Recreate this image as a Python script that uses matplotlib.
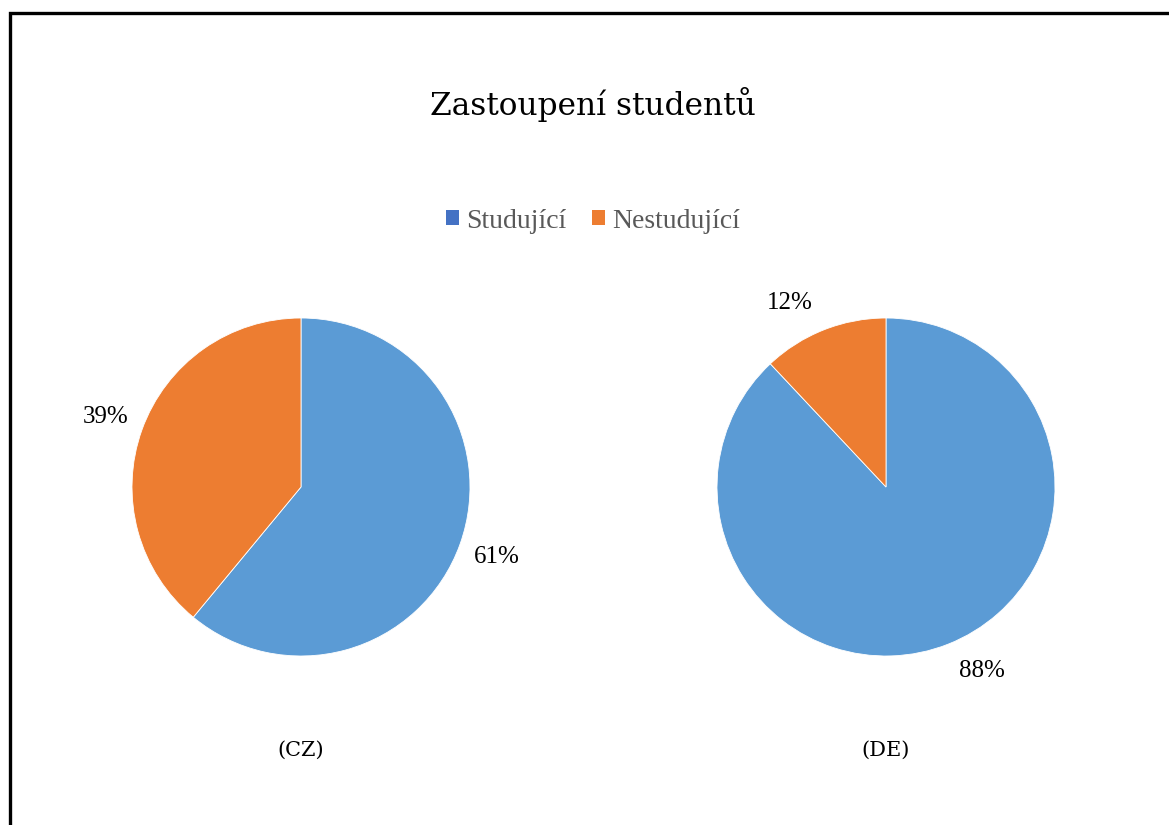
import numpy as np
import matplotlib.pyplot as plt
from matplotlib.patches import Rectangle, Patch

# data
categories = ['Studující', 'Nestudující']
countries = ['(CZ)', '(DE)']
cz_values = [61, 39]
de_values = [88, 12]

pie_colors = ['#5B9BD5', '#ED7D31']
legend_colors = ['#4472C4', '#ED7D31']

W, H = 1169, 825
fig = plt.figure(figsize=(W / 100, H / 100), dpi=100)

# frame of the chart area (right and bottom fall outside the image)
fig.patches.append(Rectangle((9.5 / W, -0.1), 1.2, (H - 13.5) / H + 0.1,
                             transform=fig.transFigure, fill=False,
                             edgecolor='black', linewidth=2.4))

fig.text(593 / W, 1 - 104 / H, 'Zastoupení studentů', ha='center', va='center',
         fontsize=22.5, family='DejaVu Serif')

def drawPie(cx, cy, r, values, name, nudge):
    ax = fig.add_axes([(cx - r) / W, 1 - (cy + r) / H, 2 * r / W, 2 * r / H])
    wedges, texts, autotexts = ax.pie(values, colors=pie_colors, startangle=90, counterclock=False,
           autopct='%1.0f%%', pctdistance=1.22,
           wedgeprops={'edgecolor': 'white', 'linewidth': 0.6},
           textprops={'fontsize': 18, 'family': 'Liberation Serif', 'color': '#000000'})
    # excel's "best fit" labels sit a few degrees off the slice middle
    for w, t, d in zip(wedges, autotexts, nudge):
        a = np.deg2rad((w.theta1 + w.theta2) / 2 + d)
        t.set_position((1.23 * np.cos(a), 1.23 * np.sin(a)))
    ax.set_xlim(-1, 1)
    ax.set_ylim(-1, 1)
    ax.set_aspect('auto')
    ax.axis('off')
    fig.text(cx / W, 1 - 750 / H, name, ha='center', va='center',
             fontsize=15, family='DejaVu Serif')

drawPie(301, 487, 169, cz_values, countries[0], [0, 0])
drawPie(886, 487, 169, de_values, countries[1], [6, 6])

handles = [Patch(facecolor=c, edgecolor='none') for c in legend_colors]
leg = fig.legend(handles, categories, loc='center', bbox_to_anchor=(593 / W, 1 - 221 / H),
                 ncol=2, frameon=False, handlelength=0.45, handleheight=0.45,
                 handletextpad=0.25, columnspacing=0.95,
                 prop={'family': 'Liberation Serif', 'size': 20})
for t in leg.get_texts():
    t.set_color('#595959')

fig.savefig('out.png', dpi=100)
